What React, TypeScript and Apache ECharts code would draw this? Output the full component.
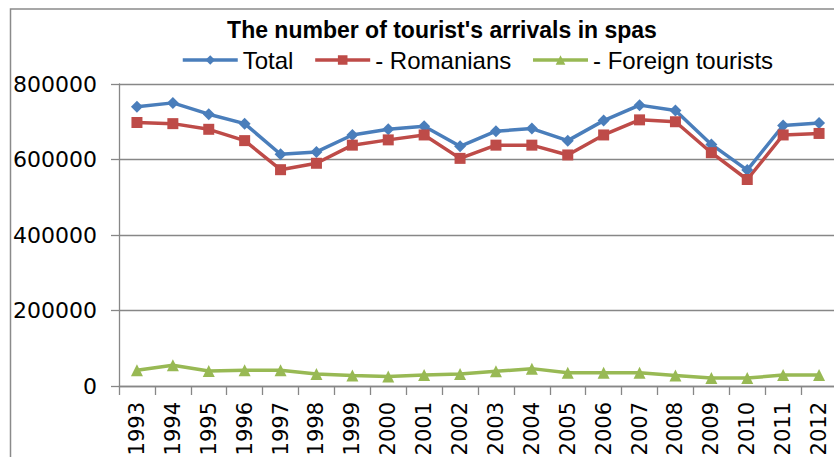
import React, { useEffect, useRef } from "react";
import * as echarts from "echarts";

const years = ["1993","1994","1995","1996","1997","1998","1999","2000","2001","2002","2003","2004","2005","2006","2007","2008","2009","2010","2011","2012"];
const total = [740000,750000,720000,695000,614000,620000,665000,680000,688000,635000,675000,682000,650000,703000,744000,730000,640000,572000,690000,697000];
const romanians = [698000,695000,680000,650000,573000,590000,638000,652000,665000,603000,638000,638000,612000,665000,705000,700000,618000,547000,665000,669000];
const foreign = [42000,55000,40000,42000,42000,32000,28000,25000,29000,32000,39000,46000,35000,35000,35000,28000,21000,21000,29000,29000];
const yTicks = [0, 200000, 400000, 600000, 800000];

const titleText = "The number of tourist's arrivals in spas";

export default function App() {
  const ref = useRef<HTMLDivElement>(null);
  useEffect(() => {
    if (!ref.current) return;
    const chart = echarts.init(ref.current, undefined, { renderer: "svg" });
    const gray = "#878787";
    const mk = (name: string, data: number[], color: string, symbol: string, size: number) => ({
      name,
      type: "line",
      data,
      symbol,
      symbolSize: size,
      showSymbol: true,
      lineStyle: { color, width: 3.5 },
      itemStyle: { color },
    });
    chart.setOption({
      animation: false,
      backgroundColor: "#ffffff",
      graphic: [
        {
          type: "rect",
          shape: { x: 10.5, y: 9, width: 900, height: 600 },
          style: { fill: "none", stroke: "#8a8a8a", lineWidth: 1.5 },
          silent: true,
        },
        {
          type: "text",
          x: 442,
          y: 30,
          style: {
            text: titleText,
            font: "bold 23px 'Liberation Sans', Arial, sans-serif",
            fill: "#000",
            textAlign: "center",
            textVerticalAlign: "middle",
          },
        },
      ],
      legend: {
        left: 181,
        top: 48,
        padding: 0,
        itemWidth: 55,
        itemHeight: 12,
        itemGap: 20,
        lineStyle: { width: 3.5 },
        textStyle: { fontFamily: "'Liberation Sans', Arial, sans-serif", fontSize: 24, color: "#000" },
        data: ["Total", "- Romanians", "- Foreign tourists"],
      },
      grid: {
        left: 119,
        top: 84,
        width: 718,
        height: 302,
        containLabel: false,
        outerBoundsMode: "none",
      },
      xAxis: {
        type: "category",
        data: years,
        boundaryGap: true,
        axisLine: { lineStyle: { color: gray, width: 1.3 } },
        axisTick: { show: true, length: 9, lineStyle: { color: gray, width: 1.3 } },
        axisLabel: {
          rotate: 90,
          margin: 16,
          interval: 0,
          color: "#000",
          fontFamily: "'DejaVu Sans', sans-serif",
          fontSize: 21,
        },
        splitLine: { show: false },
      },
      yAxis: {
        type: "value",
        min: yTicks[0],
        max: yTicks[yTicks.length - 1],
        interval: yTicks[1] - yTicks[0],
        axisLine: { show: true, lineStyle: { color: gray, width: 1.3 } },
        axisTick: { show: true, length: 8, lineStyle: { color: gray, width: 1.3 } },
        axisLabel: {
          margin: 22,
          color: "#000",
          fontFamily: "'DejaVu Sans', sans-serif",
          fontSize: 22,
          formatter: (v: number) => String(v),
        },
        splitLine: { show: true, lineStyle: { color: gray, width: 1.3 } },
      },
      series: [
        mk("Total", total, "#4A7EBB", "diamond", 12),
        mk("- Romanians", romanians, "#BE4B48", "rect", 11),
        mk("- Foreign tourists", foreign, "#98B954", "triangle", 12),
      ],
    });
    return () => chart.dispose();
  }, []);
  return (
    <div
      ref={ref}
      style={{ position: "absolute", left: 0, top: 0, width: 834, height: 457, background: "#fff" }}
    />
  );
}
